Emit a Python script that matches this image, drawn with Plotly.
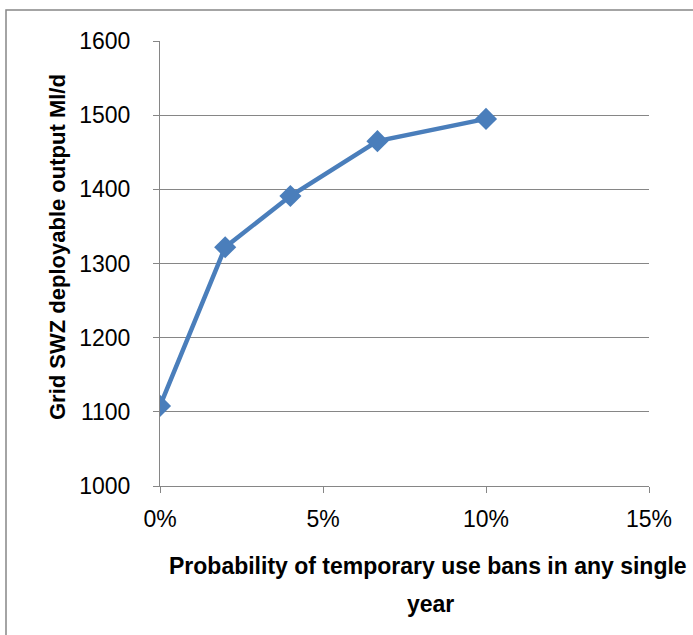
import plotly.graph_objects as go

prob = [0.0, 0.02, 0.04, 0.0667, 0.10]
output = [1108, 1322, 1391, 1465, 1495]
y_ticks = [1000, 1100, 1200, 1300, 1400, 1500, 1600]
x_ticks = [0.0, 0.05, 0.10, 0.15]
x_tick_labels = ["0%", "5%", "10%", "15%"]

L, R, T, B = 160, 44, 41, 149
W, H = 693, 635
pw, ph = W - L - R, H - T - B

def px(x):
    return (x - L) / pw

def py(y):
    return (H - B - y) / ph

fig = go.Figure()
fig.add_trace(go.Scatter(
    x=prob, y=output, mode="lines+markers",
    line=dict(color="#4A7EBB", width=4.5),
    marker=dict(symbol="diamond", size=17, color="#4A7EBB"),
    showlegend=False,
))

font = "Liberation Sans, Arial, sans-serif"
fig.update_layout(
    width=W, height=H,
    margin=dict(l=L, r=R, t=T, b=B),
    paper_bgcolor="white", plot_bgcolor="white",
    font=dict(family=font, size=23, color="black"),
    xaxis=dict(range=[0, 0.15], tickvals=x_ticks, ticktext=x_tick_labels,
               showgrid=False, zeroline=False, showline=True, linecolor="#868686",
               linewidth=1, ticks="outside", ticklen=6, tickcolor="#868686",
               tickfont=dict(size=23), ticklabelstandoff=6, fixedrange=True),
    yaxis=dict(range=[1000, 1600], tickvals=y_ticks, showgrid=True,
               gridcolor="#868686", gridwidth=1, zeroline=False, showline=True,
               linecolor="#868686", linewidth=1, ticks="outside", ticklen=6,
               tickcolor="#868686", tickfont=dict(size=23), ticklabelstandoff=18,
               fixedrange=True),
    shapes=[dict(type="rect", xref="paper", yref="paper",
                 x0=px(6), x1=px(720), y0=py(660), y1=py(10),
                 line=dict(color="#878787", width=1.5), fillcolor="rgba(0,0,0,0)",
                 layer="below")],
    annotations=[
        dict(text="<b>Probability of temporary use bans in any single</b>",
             xref="paper", yref="paper", x=px(428), y=py(566),
             xanchor="center", yanchor="middle", showarrow=False,
             font=dict(size=23, family=font)),
        dict(text="<b>year</b>",
             xref="paper", yref="paper", x=px(430), y=py(604),
             xanchor="center", yanchor="middle", showarrow=False,
             font=dict(size=23, family=font)),
        dict(text="<b>Grid SWZ deployable output Ml/d</b>",
             xref="paper", yref="paper", x=px(57), y=py(247),
             xanchor="center", yanchor="middle", showarrow=False,
             textangle=-90, font=dict(size=22, family=font)),
    ],
)

fig.write_html("out.html")
